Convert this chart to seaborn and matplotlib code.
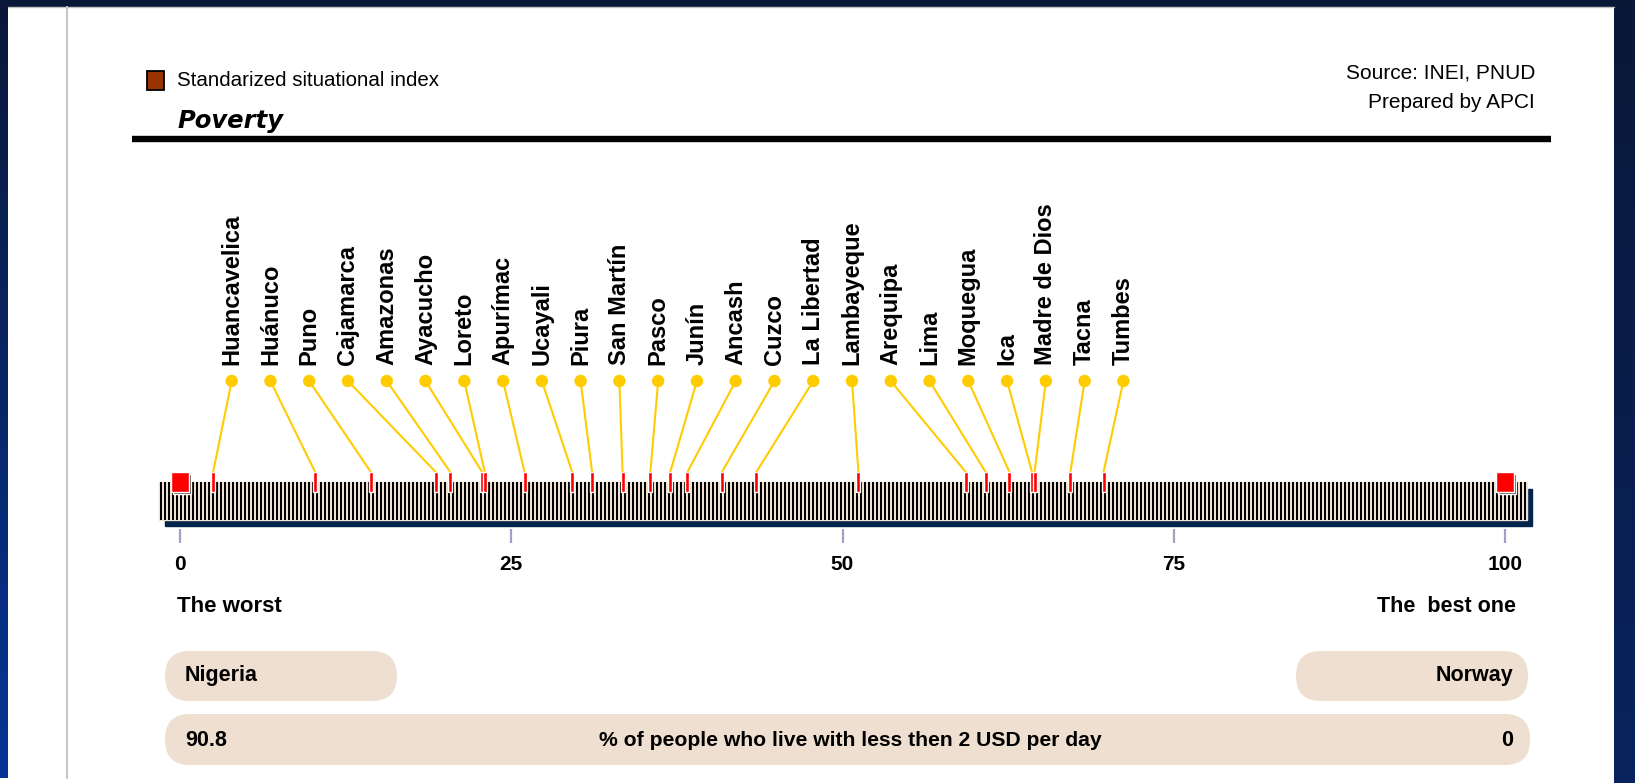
import numpy as np
import pandas as pd
import matplotlib
matplotlib.use("Agg")
import matplotlib.pyplot as plt
import seaborn as sns
from matplotlib.patches import Rectangle, FancyBboxPatch
from matplotlib import font_manager

# ---------------- data ----------------
regions = ["Huancavelica", "Huánuco", "Puno", "Cajamarca", "Amazonas", "Ayacucho",
           "Loreto", "Apurímac", "Ucayali", "Piura", "San Martín", "Pasco", "Junín",
           "Ancash", "Cuzco", "La Libertad", "Lambayeque", "Arequipa", "Lima",
           "Moquegua", "Ica", "Madre de Dios", "Tacna", "Tumbes"]
index_values = [2.5, 10.2, 14.4, 19.3, 20.4, 22.8, 23.0, 26.0, 29.6, 31.1, 33.4,
                35.5, 37.0, 38.3, 40.9, 43.5, 51.2, 59.3, 60.8, 62.6, 64.3, 64.5,
                67.2, 69.7]
axis_ticks = [0, 25, 50, 75, 100]
tick_labels = ["0", "25", "50", "75", "100"]
endpoint_positions = [0, 100]
endpoint_countries = ["Nigeria", "Norway"]
endpoint_values = ["90.8", "0"]
indicator_label = "% of people who live with less then 2 USD per day"
title = "Poverty"
legend_label = "Standarized situational index"
source_lines = ["Source: INEI, PNUD", "Prepared by APCI"]

df = pd.DataFrame({"region": regions, "value": index_values})

# ---------------- style ----------------
sns.set_theme(style="white")
names = {f.name for f in font_manager.fontManager.ttflist}
NARROW = "Liberation Sans Narrow" if "Liberation Sans Narrow" in names else "Liberation Sans"
plt.rcParams["font.family"] = [NARROW, "DejaVu Sans"]
plt.rcParams["text.color"] = "black"

W, H = 1635, 783
fig = plt.figure(figsize=(W / 100, H / 100), dpi=100)
fig.patch.set_facecolor("white")

# background / decoration axes in pixel coordinates
bg = fig.add_axes([0, 0, 1, 1])
bg.set_xlim(0, W)
bg.set_ylim(H, 0)
bg.axis("off")

navy_dark = np.array([10, 24, 56]) / 255
navy_blue = np.array([6, 52, 150]) / 255
grad = np.linspace(0, 1, 256)[:, None, None]
grad_img = navy_dark * (1 - grad) + navy_blue * grad
bg.imshow(grad_img, extent=(0, 8, 778, 0), aspect="auto", zorder=1)
grad_img2 = navy_dark * (1 - grad) + (navy_dark * 0.6 + navy_blue * 0.4) * grad
bg.imshow(grad_img2, extent=(1614, W, H, 0), aspect="auto", zorder=1)
bg.add_patch(Rectangle((0, 0), W, 6, color=navy_dark, zorder=2))
bg.plot([8, 1614], [6.5, 6.5], color="#c4c4c4", lw=1, zorder=2)
bg.plot([67, 67], [7, 778], color="#c8c8c8", lw=1.6, zorder=2)
bg.set_xlim(0, W)
bg.set_ylim(H, 0)

# header
bg.add_patch(Rectangle((147, 71), 17, 19, facecolor="#993300", edgecolor="black", lw=1.3))
bg.text(177, 80, legend_label, fontsize=14.8, va="center", ha="left")
bg.text(177, 121, title, fontsize=17.5, fontweight="bold", fontstyle="italic",
        family="DejaVu Sans", va="center", ha="left")
bg.plot([132, 1551], [138.5, 138.5], color="black", lw=4.6, solid_capstyle="butt")
bg.text(1535, 73, source_lines[0], fontsize=15, ha="right", va="center")
bg.text(1535, 102, source_lines[1], fontsize=15, ha="right", va="center")

# pills
pill_color = "#eedfd0"
for (x0, y0, w, h) in [(165, 651, 232, 50), (1296, 651, 232, 50), (165, 714, 1365, 51)]:
    bg.add_patch(FancyBboxPatch((x0, y0), w, h, boxstyle="round,pad=0,rounding_size=25",
                                facecolor=pill_color, edgecolor="none"))
bg.text(185, 676, endpoint_countries[0], fontsize=15.5, fontweight="bold", va="center", ha="left")
bg.text(1513, 676, endpoint_countries[1], fontsize=15.5, fontweight="bold", va="center", ha="right")
bg.text(185, 740, endpoint_values[0], fontsize=15.5, fontweight="bold", va="center", ha="left")
bg.text(1513, 740, endpoint_values[1], fontsize=15.5, fontweight="bold", va="center", ha="right")
bg.text(850, 740, indicator_label, fontsize=15.2, fontweight="bold", va="center", ha="center")
bg.text(177, 607, "The worst", fontsize=16, fontweight="bold", va="center", ha="left")
bg.text(1516, 607, "The  best one", fontsize=15.5, fontweight="bold", va="center", ha="right")

# ---------------- main data axes: x in index units, y in pixels ----------------
X0, SCALE = 180.0, 13.25
ax = fig.add_axes([0, 0, 1, 1])
ax.patch.set_alpha(0)
px = lambda p: (p - X0) / SCALE

# scale bar: navy shadow, beige body, black stripes
ax.add_patch(Rectangle((px(165), 489), px(1532) - px(165), 37, color="#03254c", zorder=1))
ax.add_patch(Rectangle((px(159), 482), px(1527) - px(159), 38, color="#efe2d4", zorder=2))
stripe_px = np.arange(161, 1526, 4)
ax.vlines(px(stripe_px), 482, 520, color="black", lw=1.44, zorder=3)

# axis ticks and labels
ax.vlines(axis_ticks, 529, 543, color="#a0a0c8", lw=1.6, zorder=3)
for t, lab in zip(axis_ticks, tick_labels):
    ax.text(t, 564, lab, fontsize=15, fontweight="bold", ha="center", va="center")

# endpoint squares (Nigeria = 0, Norway = 100)
sq_w = 18 / SCALE
ax.bar([p + 2 / SCALE for p in endpoint_positions], 20, bottom=474, width=sq_w,
       color="#333333", zorder=4)
ax.bar(endpoint_positions, 20, bottom=472, width=sq_w, color="#ff0000", zorder=5)

# region markers
ax.bar(df["value"], 20, bottom=472, width=4 / SCALE, color="#ff0000", zorder=5)

# label anchors and leader lines
label_x = np.linspace(3.9, 71.2, len(regions))
dot_y = np.full(len(regions), 381.0)
for lx, v in zip(label_x, df["value"]):
    ax.plot([lx, v], [381, 472], color="#ffcc00", lw=1.5, zorder=4, solid_capstyle="round")
sns.scatterplot(x=label_x, y=dot_y, ax=ax, s=80, color="#ffcc00", edgecolor="none",
                legend=False, zorder=6)
for lx, name in zip(label_x, df["region"]):
    ax.text(lx, 365, name, rotation=90, ha="center", va="bottom", fontsize=17,
            fontweight="bold")

ax.set_xlim(px(0), px(W))
ax.set_ylim(H, 0)
ax.axis("off")

fig.savefig("out.png", dpi=100, facecolor="white")
